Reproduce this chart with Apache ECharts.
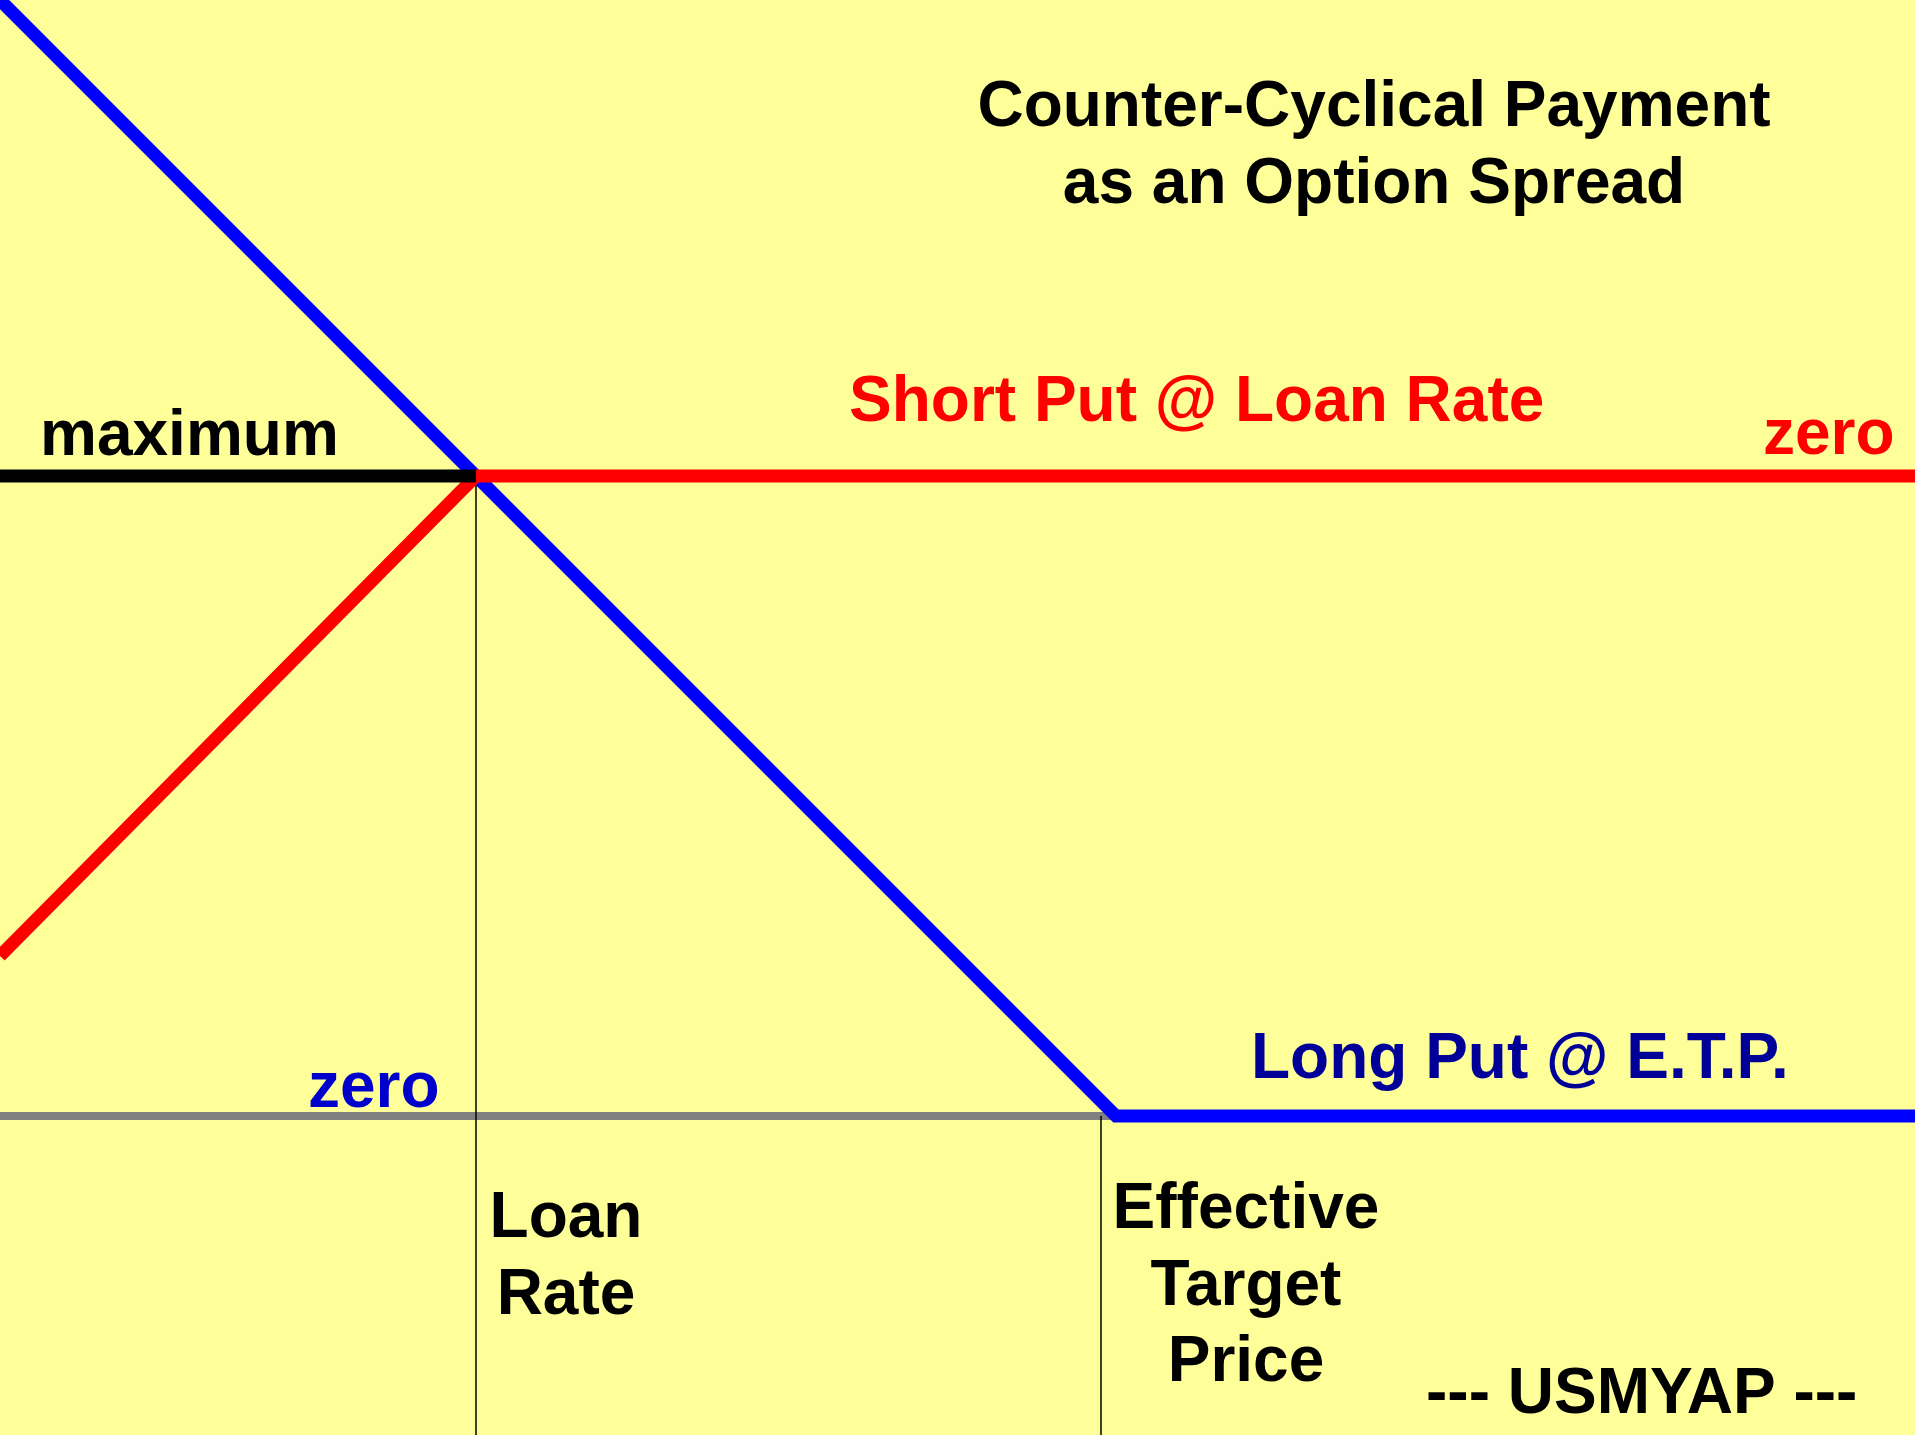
<!DOCTYPE html>
<html>
<head>
<meta charset="utf-8">
<script src="https://cdn.jsdelivr.net/npm/echarts@6/dist/echarts.min.js"></script>
<style>
  html, body { margin: 0; padding: 0; background: #ffff99; }
  #chart { width: 1915px; height: 1435px; }
</style>
</head>
<body>
<div id="chart"></div>
<script>
// price on x, payoff on y (zero payoff = the grey line)
const loanRate = 476;
const effTargetPrice = 1101;

const longPut = [[0, 1116], [1116, 0], [1915, 0]];
const shortPut = [[0, 160], [476, 640], [1915, 640]];
const maximumLine = [[0, 640], [476, 640]];
const zeroLine = [[0, 0], [1114, 0]];
const loanRateMark = [[loanRate, 640], [loanRate, -319]];
const etpMark = [[effTargetPrice, 0], [effTargetPrice, -319]];

const chart = echarts.init(document.getElementById('chart'));
const FONT = 'bold 64px "Liberation Sans", Arial, sans-serif';

function txt(text, x, y, color, align) {
  return {
    type: 'text',
    x: x,
    y: y,
    z: 100,
    style: {
      text: text,
      font: FONT,
      fill: color,
      textAlign: align || 'left',
      textVerticalAlign: 'middle'
    }
  };
}

function line(data, color, width, z) {
  return {
    type: 'line',
    data: data,
    symbol: 'none',
    silent: true,
    z: z,
    lineStyle: { color: color, width: width, cap: 'butt', join: 'miter' }
  };
}

const option = {
  backgroundColor: '#ffff99',
  animation: false,
  grid: { left: 0, right: 0, top: 0, bottom: 0 },
  xAxis: { type: 'value', min: 0, max: 1915, show: false },
  yAxis: { type: 'value', min: -319, max: 1116, show: false },
  series: [
    line(zeroLine, '#808080', 8, 2),
    line(loanRateMark, '#000000', 1.5, 3),
    line(etpMark, '#000000', 1.5, 3),
    line(longPut, '#0000ff', 13, 4),
    line(shortPut, '#ff0000', 13, 5),
    line(maximumLine, '#000000', 13, 6)
  ],
  graphic: [
    txt('Counter-Cyclical Payment', 1374, 108, '#000000', 'center'),
    txt('as an Option Spread', 1374, 185, '#000000', 'center'),
    txt('maximum', 40, 437, '#000000'),
    txt('Short Put @ Loan Rate', 849, 403, '#ff0000'),
    txt('zero', 1763, 436, '#ff0000'),
    txt('Long Put @ E.T.P.', 1251, 1060, '#000099'),
    txt('zero', 308, 1089, '#0000cc'),
    txt('Loan', 566, 1219, '#000000', 'center'),
    txt('Rate', 566, 1296, '#000000', 'center'),
    txt('Effective', 1246, 1210, '#000000', 'center'),
    txt('Target', 1246, 1287, '#000000', 'center'),
    txt('Price', 1246, 1363, '#000000', 'center'),
    txt('--- USMYAP ---', 1426, 1395, '#000000')
  ]
};

chart.setOption(option);
</script>
</body>
</html>
